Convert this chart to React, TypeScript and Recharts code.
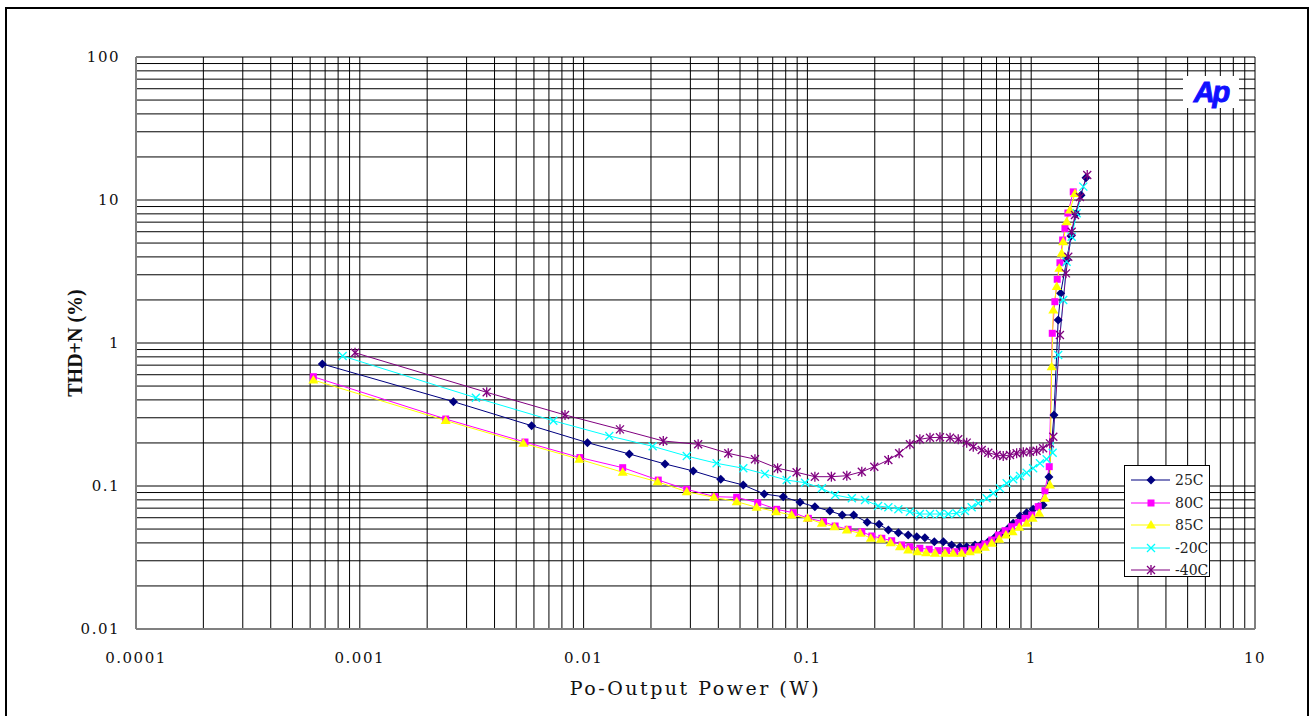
import React from 'react';
import { LineChart, Line, XAxis, YAxis, CartesianGrid, Label } from 'recharts';

// axis decades + labels
const powerDecades = [0.0001, 0.001, 0.01, 0.1, 1, 10];
const powerLabels = ['0.0001', '0.001', '0.01', '0.1', '1', '10'];
const thdDecades = [0.01, 0.1, 1, 10, 100];
const thdLabels = ['0.01', '0.1', '1', '10', '100'];
const decadeSteps = [1, 2, 3, 4, 5, 6, 7, 8, 9];

// 25C
const t25Power = [0.00068, 0.00262, 0.00586, 0.0104, 0.016, 0.0231, 0.0309, 0.041, 0.0517, 0.0641, 0.078, 0.0927, 0.108, 0.126, 0.143, 0.161, 0.185, 0.209, 0.23, 0.255, 0.282, 0.308, 0.335, 0.369, 0.405, 0.441, 0.48, 0.515, 0.561, 0.601, 0.643, 0.689, 0.738, 0.79, 0.831, 0.891, 0.954, 1.02, 1.075, 1.13, 1.2, 1.264, 1.32, 1.354, 1.44, 1.505, 1.585, 1.669, 1.757];
const t25Thd = [0.713, 0.389, 0.264, 0.201, 0.1675, 0.1426, 0.1274, 0.1114, 0.1016, 0.0879, 0.0842, 0.0769, 0.0716, 0.0668, 0.0627, 0.0627, 0.0557, 0.054, 0.0492, 0.0471, 0.0454, 0.0442, 0.0435, 0.0408, 0.0408, 0.0387, 0.0376, 0.0376, 0.0387, 0.0393, 0.0408, 0.0438, 0.0467, 0.0506, 0.0548, 0.0617, 0.0651, 0.0687, 0.0717, 0.0736, 0.1156, 0.314, 1.45, 2.225, 3.8, 5.6, 7.98, 10.8, 14.3];

// 80C
const t80Power = [0.00062, 0.00242, 0.00547, 0.00963, 0.01495, 0.02156, 0.0289, 0.0386, 0.0483, 0.06, 0.0729, 0.0865, 0.101, 0.118, 0.133, 0.152, 0.175, 0.194, 0.215, 0.238, 0.264, 0.287, 0.318, 0.35, 0.384, 0.419, 0.456, 0.497, 0.542, 0.58, 0.621, 0.666, 0.713, 0.764, 0.818, 0.875, 0.938, 1.005, 1.075, 1.152, 1.204, 1.242, 1.276, 1.307, 1.344, 1.382, 1.415, 1.459, 1.541];
const t80Thd = [0.581, 0.294, 0.203, 0.158, 0.1343, 0.11, 0.0948, 0.0842, 0.0834, 0.0764, 0.0687, 0.0651, 0.0594, 0.0563, 0.0525, 0.0498, 0.0479, 0.0447, 0.0431, 0.0414, 0.0387, 0.0376, 0.0367, 0.0361, 0.0353, 0.0353, 0.0347, 0.0353, 0.0361, 0.0376, 0.0393, 0.0419, 0.0454, 0.0487, 0.0519, 0.0554, 0.0594, 0.0627, 0.0717, 0.0927, 0.1365, 1.169, 1.945, 2.79, 3.64, 5.25, 6.34, 8.11, 11.4];

// 85C
const t85Power = [0.00062, 0.00242, 0.00538, 0.00956, 0.01495, 0.0214, 0.0289, 0.0382, 0.0483, 0.0593, 0.0724, 0.085, 0.1003, 0.116, 0.132, 0.15, 0.172, 0.192, 0.213, 0.2355, 0.259, 0.282, 0.31, 0.339, 0.372, 0.412, 0.448, 0.489, 0.532, 0.576, 0.621, 0.666, 0.72, 0.771, 0.826, 0.884, 0.954, 1.015, 1.086, 1.152, 1.213, 1.234, 1.255, 1.3, 1.335, 1.368, 1.39, 1.44, 1.49, 1.569];
const t85Thd = [0.551, 0.287, 0.199, 0.154, 0.1247, 0.107, 0.0912, 0.0834, 0.0777, 0.071, 0.0661, 0.0627, 0.0594, 0.0548, 0.0519, 0.0492, 0.0467, 0.0431, 0.0424, 0.0401, 0.0376, 0.0357, 0.0347, 0.0342, 0.0338, 0.0338, 0.0338, 0.0338, 0.0347, 0.0357, 0.0373, 0.0397, 0.0424, 0.0454, 0.0479, 0.0514, 0.0548, 0.0594, 0.0644, 0.082, 0.1016, 0.683, 1.7, 2.48, 3.33, 4.24, 5.11, 7.05, 8.51, 11.1];

// -20C
const tm20Power = [0.000838, 0.0033, 0.00732, 0.01302, 0.02035, 0.0289, 0.0393, 0.0517, 0.0646, 0.0808, 0.0976, 0.116, 0.133, 0.158, 0.181, 0.207, 0.23, 0.255, 0.287, 0.318, 0.353, 0.391, 0.426, 0.464, 0.506, 0.542, 0.58, 0.632, 0.677, 0.725, 0.777, 0.831, 0.891, 0.954, 1.02, 1.094, 1.172, 1.247, 1.32, 1.39, 1.44, 1.516, 1.597, 1.709];
const tm20Thd = [0.811, 0.414, 0.286, 0.2237, 0.1895, 0.162, 0.1441, 0.133, 0.1213, 0.11, 0.1055, 0.0964, 0.0865, 0.082, 0.0798, 0.0725, 0.071, 0.0687, 0.0661, 0.0637, 0.0637, 0.0637, 0.0637, 0.0644, 0.0668, 0.071, 0.0757, 0.082, 0.0889, 0.0964, 0.1044, 0.1114, 0.1175, 0.1239, 0.133, 0.1441, 0.154, 0.171, 0.825, 2.0, 3.7, 5.54, 8.07, 12.4];

// -40C
const tm40Power = [0.000952, 0.00369, 0.00826, 0.01454, 0.0227, 0.0325, 0.0443, 0.0583, 0.0736, 0.0895, 0.108, 0.128, 0.15, 0.175, 0.199, 0.23, 0.257, 0.287, 0.318, 0.353, 0.391, 0.434, 0.472, 0.515, 0.551, 0.601, 0.643, 0.701, 0.75, 0.804, 0.861, 0.922, 0.987, 1.057, 1.13, 1.213, 1.255, 1.344, 1.43, 1.464, 1.516, 1.569, 1.651, 1.78];
const tm40Thd = [0.855, 0.452, 0.314, 0.249, 0.2064, 0.1957, 0.1693, 0.154, 0.133, 0.1247, 0.1162, 0.1162, 0.118, 0.1259, 0.1365, 0.152, 0.1693, 0.1957, 0.212, 0.2177, 0.219, 0.2177, 0.212, 0.201, 0.1883, 0.1786, 0.171, 0.1647, 0.162, 0.1647, 0.1693, 0.172, 0.1736, 0.1764, 0.1835, 0.1987, 0.2212, 1.137, 3.07, 4.01, 6.0, 7.85, 10.5, 14.95];

const zip = (xs: number[], ys: number[]) => xs.map((power, i) => ({ power, thd: ys[i] }));

const logTicks = (dec: number[]) =>
  dec.slice(0, -1).flatMap((d) => decadeSteps.map((s) => +(s * d).toPrecision(6))).concat(dec[dec.length - 1]);

const labelFor = (v: number, dec: number[], labels: string[]) => {
  const i = dec.findIndex((d) => Math.abs(d - v) / d < 1e-6);
  return i >= 0 ? labels[i] : '';
};

const serif = '"DejaVu Serif", "Liberation Serif", serif';

type Kind = 'diamond' | 'square' | 'triangle' | 'cross' | 'star';

const Marker = ({ kind, color, cx, cy }: { kind: Kind; color: string; cx: number; cy: number }) => {
  if (kind === 'diamond')
    return <polygon points={`${cx},${cy - 4.5} ${cx + 4.5},${cy} ${cx},${cy + 4.5} ${cx - 4.5},${cy}`} fill={color} />;
  if (kind === 'square') return <rect x={cx - 3.5} y={cy - 3.5} width={7} height={7} fill={color} />;
  if (kind === 'triangle')
    return <polygon points={`${cx},${cy - 5} ${cx + 5},${cy + 3.5} ${cx - 5},${cy + 3.5}`} fill={color} />;
  const r = 4;
  return (
    <g stroke={color} strokeWidth={1.3}>
      <line x1={cx - r} y1={cy - r} x2={cx + r} y2={cy + r} />
      <line x1={cx - r} y1={cy + r} x2={cx + r} y2={cy - r} />
      {kind === 'star' && <line x1={cx} y1={cy - r - 1} x2={cx} y2={cy + r + 1} />}
    </g>
  );
};

const series = [
  { name: '25C', color: '#000080', kind: 'diamond' as Kind, data: zip(t25Power, t25Thd) },
  { name: '80C', color: '#FF00FF', kind: 'square' as Kind, data: zip(t80Power, t80Thd) },
  { name: '85C', color: '#FFFF00', kind: 'triangle' as Kind, data: zip(t85Power, t85Thd) },
  { name: '-20C', color: '#00FFFF', kind: 'cross' as Kind, data: zip(tm20Power, tm20Thd) },
  { name: '-40C', color: '#800080', kind: 'star' as Kind, data: zip(tm40Power, tm40Thd) },
];

const XTick = ({ x, y, payload }: any) => {
  const t = labelFor(payload.value, powerDecades, powerLabels);
  if (!t) return <g />;
  return (
    <text x={x} y={y + 26} textAnchor="middle" fontFamily={serif} fontSize={15} letterSpacing={1.5} fill="#111">
      {t}
    </text>
  );
};

const YTick = ({ x, y, payload }: any) => {
  const t = labelFor(payload.value, thdDecades, thdLabels);
  if (!t) return <g />;
  return (
    <text x={x - 8} y={y + 5} textAnchor="end" fontFamily={serif} fontSize={15} letterSpacing={1.5} fill="#111">
      {t}
    </text>
  );
};

export default function App() {
  return (
    <div style={{ position: 'absolute', left: 0, top: 0, width: 1315, height: 716, background: '#fff', overflow: 'hidden' }}>
      <div style={{ position: 'absolute', left: 5, top: 7, width: 1300, height: 720, border: '2px solid #000' }} />
      <LineChart width={1315} height={716} margin={{ top: 57, right: 60, bottom: 27, left: 76 }}>
        <CartesianGrid stroke="#000" strokeWidth={1} />
        <XAxis
          type="number"
          dataKey="power"
          scale="log"
          domain={[0.0001, 10]}
          ticks={logTicks(powerDecades)}
          interval={0}
          allowDataOverflow
          height={60}
          tickLine={false}
          axisLine={{ stroke: '#808080', strokeWidth: 2 }}
          tick={<XTick />}
        >
          <Label
            content={({ viewBox }: any) => (
              <text
                x={viewBox.x + viewBox.width / 2}
                y={viewBox.y + 66}
                textAnchor="middle"
                fontFamily={serif}
                fontSize={19}
                letterSpacing={2.5}
                fill="#111"
              >
                Po-Output Power (W)
              </text>
            )}
          />
        </XAxis>
        <YAxis
          type="number"
          scale="log"
          domain={[0.01, 100]}
          ticks={logTicks(thdDecades)}
          interval={0}
          allowDataOverflow
          width={60}
          tickLine={false}
          axisLine={{ stroke: '#808080', strokeWidth: 2 }}
          tick={<YTick />}
        >
          <Label
            content={({ viewBox }: any) => {
              const cx = 75;
              const cy = viewBox.y + viewBox.height / 2;
              return (
                <text
                  x={cx}
                  y={cy}
                  transform={`rotate(-90 ${cx} ${cy})`}
                  textAnchor="middle"
                  dominantBaseline="central"
                  fontFamily='"Liberation Serif", serif'
                  fontWeight="bold"
                  fontSize={20}
                  fill="#111"
                >
                  THD+N (%)
                </text>
              );
            }}
          />
        </YAxis>
        {series.map((s) => (
          <Line
            key={s.name}
            data={s.data}
            dataKey="thd"
            name={s.name}
            type="linear"
            stroke={s.color}
            strokeWidth={1}
            isAnimationActive={false}
            dot={(p: any) => <Marker key={`${s.name}-${p.index}`} kind={s.kind} color={s.color} cx={p.cx} cy={p.cy} />}
            activeDot={false}
          />
        ))}
      </LineChart>
      {/* Ap badge */}
      <div
        style={{
          position: 'absolute',
          left: 1183,
          top: 76,
          width: 56,
          height: 32,
          background: '#fff',
          color: '#1010FF',
          fontFamily: '"Liberation Sans", Arial, sans-serif',
          fontWeight: 900,
          fontStyle: 'italic',
          fontSize: 29,
          lineHeight: '32px',
          textAlign: 'center',
          letterSpacing: -2,
          WebkitTextStroke: '1px #1010FF',
        }}
      >
        Ap
      </div>
      {/* legend */}
      <div
        style={{
          position: 'absolute',
          left: 1124,
          top: 465,
          width: 86,
          height: 112,
          background: '#fff',
          border: '1px solid #000',
          boxSizing: 'border-box',
          paddingTop: 3,
        }}
      >
        {series.map((s) => (
          <div key={s.name} style={{ display: 'flex', alignItems: 'center', height: 22.5 }}>
            <svg width={50} height={14} style={{ flex: 'none' }}>
              <line x1={6} y1={7} x2={45} y2={7} stroke={s.color} strokeWidth={1.2} />
              <Marker kind={s.kind} color={s.color} cx={26} cy={7} />
            </svg>
            <span style={{ fontFamily: serif, fontSize: 14, color: '#222' }}>{s.name}</span>
          </div>
        ))}
      </div>
    </div>
  );
}
